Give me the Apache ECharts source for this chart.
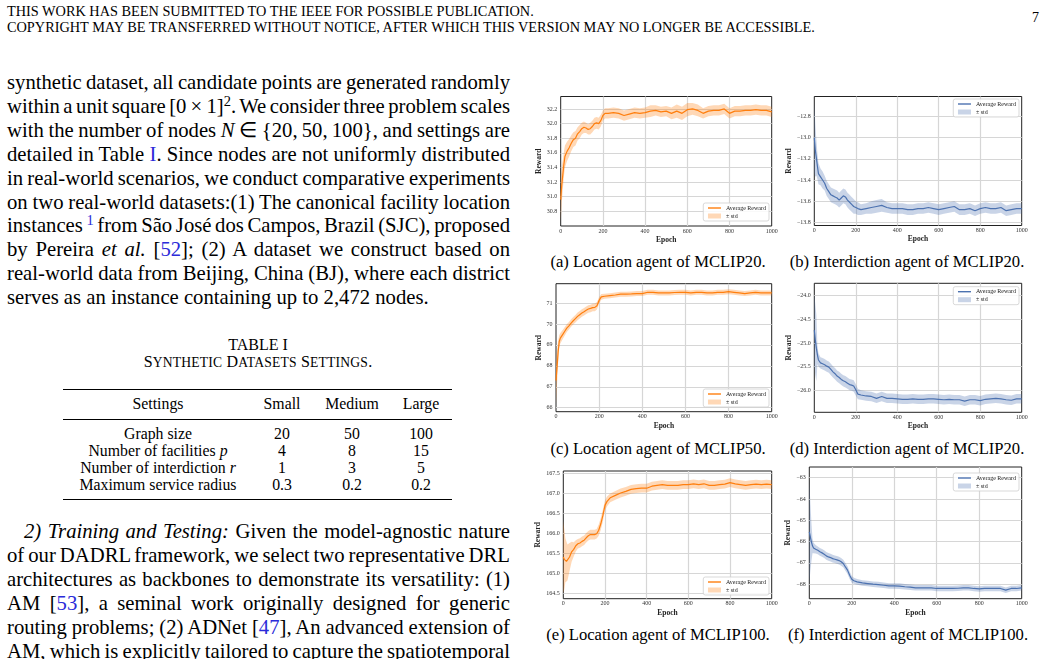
<!DOCTYPE html>
<html>
<head>
<meta charset="utf-8">
<script src="https://cdn.jsdelivr.net/npm/echarts@6/dist/echarts.min.js"></script>
<style>
  body { margin: 0; background: #fff; color: #000; font-family: "Liberation Serif", serif; }
  #page { position: relative; width: 1048px; height: 659px; overflow: hidden; }
  .hdr { position: absolute; left: 7px; top: 3px; font-size: 14.3px; line-height: 16px; white-space: nowrap; }
  .pno { position: absolute; right: 9px; top: 10px; font-size: 14px; line-height: 16px; }
  .col { position: absolute; left: 7px; width: 503px; font-size: 20.7px; line-height: 23.9px; }
  .col div { white-space: nowrap; }
  .lnk { color: #2b2bd9; }
  sup { font-size: 0.7em; line-height: 0; vertical-align: 0.45em; }
  .sc { font-size: 0.85em; }
  .cap { position: absolute; font-size: 16.6px; line-height: 20px; white-space: nowrap; transform: translateX(-50%); }
  .tc { position: absolute; font-size: 15.8px; line-height: 17.5px; white-space: nowrap; transform: translateX(-50%); }
  .rule { position: absolute; left: 63px; width: 389px; background: #000; }
  #chart { position: absolute; left: 0; top: 0; width: 1048px; height: 659px; }
</style>
</head>
<body>
<div id="page">
  <div class="hdr">THIS WORK HAS BEEN SUBMITTED TO THE IEEE FOR POSSIBLE PUBLICATION.<br>COPYRIGHT MAY BE TRANSFERRED WITHOUT NOTICE, AFTER WHICH THIS VERSION MAY NO LONGER BE ACCESSIBLE.</div>
  <div class="pno">7</div>

  <div class="col" style="top:71px">
    <div><span>synthetic dataset, all candidate points are generated randomly</span></div>
    <div><span>within a unit square [0&thinsp;×&thinsp;1]<sup>2</sup>. We consider three problem scales</span></div>
    <div><span>with the number of nodes <i>N</i> ∈ {20,&thinsp;50,&thinsp;100}, and settings are</span></div>
    <div><span>detailed in Table <span class="lnk">I</span>. Since nodes are not uniformly distributed</span></div>
    <div><span>in real-world scenarios, we conduct comparative experiments</span></div>
    <div><span>on two real-world datasets:(1) The canonical facility location</span></div>
    <div><span>instances <sup class="lnk">1</sup> from São José dos Campos, Brazil (SJC), proposed</span></div>
    <div><span>by Pereira <i>et al.</i> [<span class="lnk">52</span>]; (2) A dataset we construct based on</span></div>
    <div><span>real-world data from Beijing, China (BJ), where each district</span></div>
    <div class="last"><span>serves as an instance containing up to 2,472 nodes.</span></div>
  </div>

  <div class="tc" style="left:258px;top:336px;font-size:16px;line-height:18px">TABLE I</div>
  <div class="tc" style="left:258px;top:353px;font-size:16px;line-height:18px;letter-spacing:0.2px">S<span class="sc">YNTHETIC</span> D<span class="sc">ATASETS</span> S<span class="sc">ETTINGS</span>.</div>
  <div class="rule" style="top:389px;height:1.4px"></div>
  <div class="rule" style="top:419px;height:0.9px"></div>
  <div class="rule" style="top:499px;height:1.4px"></div>
  <div class="tc" style="left:158px;top:395px">Settings</div>
  <div class="tc" style="left:282px;top:395px">Small</div>
  <div class="tc" style="left:352px;top:395px">Medium</div>
  <div class="tc" style="left:421px;top:395px">Large</div>
  <div class="tc" style="left:158px;top:425px">Graph size</div>
  <div class="tc" style="left:282px;top:425px">20</div>
  <div class="tc" style="left:352px;top:425px">50</div>
  <div class="tc" style="left:421px;top:425px">100</div>
  <div class="tc" style="left:158px;top:442px">Number of facilities <i>p</i></div>
  <div class="tc" style="left:282px;top:442px">4</div>
  <div class="tc" style="left:352px;top:442px">8</div>
  <div class="tc" style="left:421px;top:442px">15</div>
  <div class="tc" style="left:158px;top:459px">Number of interdiction <i>r</i></div>
  <div class="tc" style="left:282px;top:459px">1</div>
  <div class="tc" style="left:352px;top:459px">3</div>
  <div class="tc" style="left:421px;top:459px">5</div>
  <div class="tc" style="left:158px;top:476px">Maximum service radius</div>
  <div class="tc" style="left:282px;top:476px">0.3</div>
  <div class="tc" style="left:352px;top:476px">0.2</div>
  <div class="tc" style="left:421px;top:476px">0.2</div>

  <div class="col" style="top:520px">
    <div data-indent="17" style="padding-left:17px"><span><i>2) Training and Testing:</i> Given the model-agnostic nature</span></div>
    <div><span>of our DADRL framework, we select two representative DRL</span></div>
    <div><span>architectures as backbones to demonstrate its versatility: (1)</span></div>
    <div><span>AM [<span class="lnk">53</span>], a seminal work originally designed for generic</span></div>
    <div><span>routing problems; (2) ADNet [<span class="lnk">47</span>], An advanced extension of</span></div>
    <div><span>AM, which is explicitly tailored to capture the spatiotemporal</span></div>
  </div>

  <div class="cap" style="left:658px;top:252px">(a) Location agent of MCLIP20.</div>
  <div class="cap" style="left:907px;top:252px">(b) Interdiction agent of MCLIP20.</div>
  <div class="cap" style="left:658px;top:439px">(c) Location agent of MCLIP50.</div>
  <div class="cap" style="left:907px;top:439px">(d) Interdiction agent of MCLIP20.</div>
  <div class="cap" style="left:658px;top:625px">(e) Location agent of MCLIP100.</div>
  <div class="cap" style="left:908px;top:625px">(f) Interdiction agent of MCLIP100.</div>

  <div id="chart"></div>
</div>

<script>
// justify each text line to the column width by adjusting word spacing
document.querySelectorAll('.col > div').forEach(function (d) {
  if (d.classList.contains('last')) return;
  var span = d.firstElementChild;
  var indent = +(d.getAttribute('data-indent') || 0);
  var w = span.getBoundingClientRect().width;
  var n = (span.textContent.match(/ /g) || []).length;
  if (n) d.style.wordSpacing = ((503 - indent - w) / n) + 'px';
});

// epochs shared by all six panels
var epochs = [0, 5, 10, 15, 20, 30, 40, 50, 60, 70, 80, 90, 100, 110, 120, 130, 140, 150, 160, 170, 180, 190, 200, 210,
  225, 250, 275, 300, 325, 350, 375, 400, 425, 450, 475, 500, 525, 550, 575, 600, 625, 650, 675, 700, 725, 750, 775, 800,
  825, 850, 875, 900, 925, 950, 975, 1000];

// (a) location agent, MCLIP20
var meanA = [30.96, 31.16, 31.30, 31.44, 31.55, 31.62, 31.67, 31.73, 31.78, 31.80, 31.86, 31.89, 31.93, 31.95, 31.94, 31.92,
  31.93, 31.96, 32.00, 32.01, 32.00, 32.04, 32.11, 32.14,
  32.14, 32.15, 32.14, 32.11, 32.13, 32.15, 32.14, 32.15, 32.17, 32.18, 32.16, 32.17, 32.14, 32.17, 32.14, 32.19,
  32.20, 32.18, 32.14, 32.17, 32.18, 32.18, 32.20, 32.14, 32.17, 32.17, 32.18, 32.18, 32.19, 32.18, 32.18, 32.16];
var stdA = [0.30, 0.25, 0.20, 0.17, 0.15, 0.13, 0.12, 0.11, 0.10, 0.10, 0.09, 0.09, 0.08, 0.08, 0.07, 0.07,
  0.08, 0.08, 0.08, 0.08, 0.08, 0.08, 0.07, 0.07,
  0.07, 0.07, 0.07, 0.07, 0.07, 0.07, 0.07, 0.07, 0.08, 0.07, 0.07, 0.07, 0.08, 0.09, 0.09, 0.09,
  0.08, 0.08, 0.07, 0.07, 0.07, 0.07, 0.07, 0.07, 0.07, 0.07, 0.07, 0.07, 0.07, 0.07, 0.07, 0.07];

// (b) interdiction agent, MCLIP20
var meanB = [-13.00, -13.12, -13.19, -13.27, -13.34, -13.37, -13.40, -13.43, -13.48, -13.51, -13.54, -13.55, -13.56, -13.57,
  -13.59, -13.57, -13.55, -13.56, -13.59, -13.61, -13.63, -13.65, -13.66, -13.67,
  -13.68, -13.67, -13.66, -13.65, -13.64, -13.66, -13.67, -13.67, -13.67, -13.68, -13.68, -13.67, -13.67, -13.66, -13.67, -13.68,
  -13.67, -13.66, -13.65, -13.68, -13.68, -13.67, -13.69, -13.67, -13.66, -13.67, -13.67, -13.66, -13.69, -13.68, -13.67, -13.67];
var stdB = [0.33, 0.25, 0.17, 0.12, 0.10, 0.08, 0.08, 0.07, 0.07, 0.07, 0.07, 0.07, 0.07, 0.07, 0.07, 0.07,
  0.07, 0.07, 0.07, 0.07, 0.07, 0.07, 0.06, 0.06,
  0.05, 0.05, 0.06, 0.06, 0.06, 0.05, 0.05, 0.05, 0.05, 0.05, 0.05, 0.05, 0.05, 0.05, 0.05, 0.05,
  0.05, 0.05, 0.05, 0.05, 0.05, 0.05, 0.05, 0.05, 0.05, 0.05, 0.05, 0.05, 0.05, 0.05, 0.05, 0.05];

// (c) location agent, MCLIP50
var meanC = [67.30, 67.96, 68.68, 69.16, 69.32, 69.48, 69.64, 69.80, 69.91, 70.04, 70.15, 70.25, 70.36, 70.44, 70.52, 70.58,
  70.65, 70.71, 70.74, 70.78, 70.79, 70.87, 71.13, 71.29,
  71.32, 71.35, 71.38, 71.42, 71.42, 71.43, 71.45, 71.45, 71.51, 71.51, 71.48, 71.48, 71.48, 71.50, 71.51, 71.51,
  71.48, 71.51, 71.51, 71.48, 71.48, 71.51, 71.51, 71.54, 71.51, 71.48, 71.45, 71.48, 71.51, 71.48, 71.48, 71.48];
var stdC = [1.10, 0.80, 0.50, 0.30, 0.25, 0.22, 0.20, 0.19, 0.18, 0.18, 0.18, 0.18, 0.18, 0.18, 0.18, 0.18,
  0.18, 0.18, 0.18, 0.18, 0.18, 0.18, 0.16, 0.14,
  0.12, 0.12, 0.12, 0.12, 0.12, 0.12, 0.12, 0.12, 0.12, 0.12, 0.12, 0.12, 0.12, 0.12, 0.12, 0.12,
  0.12, 0.12, 0.12, 0.12, 0.12, 0.12, 0.12, 0.12, 0.12, 0.12, 0.12, 0.12, 0.12, 0.12, 0.12, 0.12];

// (d) interdiction agent
var meanD = [-24.73, -24.94, -25.11, -25.25, -25.36, -25.42, -25.44, -25.46, -25.49, -25.51, -25.56, -25.61, -25.65, -25.70,
  -25.73, -25.77, -25.80, -25.82, -25.85, -25.88, -25.89, -25.91, -25.99, -26.08,
  -26.10, -26.12, -26.13, -26.17, -26.13, -26.17, -26.17, -26.18, -26.19, -26.19, -26.18, -26.19, -26.19, -26.18, -26.18, -26.19,
  -26.20, -26.19, -26.20, -26.20, -26.23, -26.20, -26.20, -26.22, -26.19, -26.18, -26.17, -26.18, -26.20, -26.21, -26.18, -26.18];
var stdD = [0.75, 0.75, 0.70, 0.20, 0.14, 0.12, 0.12, 0.12, 0.12, 0.12, 0.12, 0.12, 0.12, 0.12, 0.12, 0.12,
  0.12, 0.12, 0.12, 0.12, 0.12, 0.12, 0.12, 0.11,
  0.10, 0.10, 0.10, 0.10, 0.10, 0.10, 0.10, 0.10, 0.10, 0.10, 0.10, 0.10, 0.10, 0.10, 0.10, 0.10,
  0.10, 0.10, 0.10, 0.10, 0.10, 0.10, 0.10, 0.10, 0.10, 0.10, 0.10, 0.10, 0.10, 0.10, 0.10, 0.10];

// (e) location agent, MCLIP100
var meanE = [165.40, 165.34, 165.32, 165.29, 165.26, 165.40, 165.53, 165.59, 165.68, 165.73, 165.75, 165.79, 165.82, 165.88,
  165.93, 165.96, 165.96, 165.96, 165.98, 166.07, 166.23, 166.44, 166.69, 166.79,
  166.88, 166.94, 167.00, 167.04, 167.09, 167.11, 167.12, 167.12, 167.17, 167.19, 167.21, 167.19, 167.19, 167.19, 167.21, 167.21,
  167.23, 167.21, 167.23, 167.19, 167.19, 167.21, 167.22, 167.26, 167.23, 167.21, 167.19, 167.21, 167.22, 167.21, 167.22, 167.21];
var stdE = [0.90, 0.75, 0.55, 0.50, 0.45, 0.35, 0.25, 0.18, 0.14, 0.12, 0.12, 0.12, 0.12, 0.12, 0.12, 0.12,
  0.12, 0.12, 0.12, 0.14, 0.15, 0.15, 0.13, 0.12,
  0.11, 0.11, 0.11, 0.11, 0.11, 0.11, 0.11, 0.11, 0.11, 0.11, 0.11, 0.11, 0.11, 0.11, 0.11, 0.11,
  0.11, 0.11, 0.11, 0.11, 0.11, 0.11, 0.11, 0.11, 0.11, 0.11, 0.11, 0.11, 0.11, 0.11, 0.11, 0.11];

// (f) interdiction agent, MCLIP100
var meanF = [-65.55, -65.78, -66.02, -66.20, -66.30, -66.36, -66.41, -66.48, -66.53, -66.59, -66.67, -66.72, -66.75, -66.80,
  -66.83, -66.86, -66.89, -66.95, -67.03, -67.19, -67.34, -67.58, -67.77, -67.84,
  -67.89, -67.94, -67.97, -68.00, -68.02, -68.05, -68.08, -68.08, -68.09, -68.12, -68.14, -68.17, -68.17, -68.17, -68.17, -68.20,
  -68.20, -68.20, -68.20, -68.19, -68.17, -68.17, -68.20, -68.22, -68.20, -68.20, -68.20, -68.20, -68.28, -68.20, -68.20, -68.17];
var stdF = [2.40, 1.60, 0.90, 0.35, 0.25, 0.20, 0.18, 0.18, 0.18, 0.18, 0.18, 0.18, 0.18, 0.18, 0.18, 0.18,
  0.18, 0.18, 0.18, 0.18, 0.18, 0.18, 0.16, 0.14,
  0.13, 0.13, 0.13, 0.13, 0.13, 0.13, 0.13, 0.13, 0.13, 0.13, 0.13, 0.13, 0.13, 0.13, 0.13, 0.13,
  0.13, 0.13, 0.13, 0.13, 0.13, 0.13, 0.13, 0.13, 0.13, 0.13, 0.13, 0.13, 0.13, 0.13, 0.13, 0.13];

// y tick labels
var ticksA = [30.8, 31.0, 31.2, 31.4, 31.6, 31.8, 32.0, 32.2];
var ticksB = [-13.8, -13.6, -13.4, -13.2, -13.0, -12.8];
var ticksC = [66, 67, 68, 69, 70, 71];
var ticksD = [-26.0, -25.5, -25.0, -24.5, -24.0];
var ticksE = [164.5, 165.0, 165.5, 166.0, 166.5, 167.0, 167.5];
var ticksF = [-68, -67, -66, -65, -64, -63];

var ORANGE = '#ff7f0e', ORANGE_BAND = 'rgba(255,127,14,0.3)';
var BLUE = '#4c72b0', BLUE_BAND = 'rgba(76,114,176,0.3)';
var FONT = 'Liberation Serif';

var panels = [
  { mean: meanA, std: stdA, ticks: ticksA, dec: 1, min: 30.6, max: 32.37, line: ORANGE, band: ORANGE_BAND,
    grid: [560.7, 96.5, 211, 129.5], legend: [279, 203], gapY: 17 },
  { mean: meanB, std: stdB, ticks: ticksB, dec: 1, min: -13.83, max: -12.61, line: BLUE, band: BLUE_BAND,
    grid: [814.3, 96.5, 207.4, 129], legend: [29, 99], gapY: 20.5 },
  { mean: meanC, std: stdC, ticks: ticksC, dec: 0, min: 65.81, max: 71.92, line: ORANGE, band: ORANGE_BAND,
    grid: [556, 283.7, 215.7, 128], legend: [279, 389], gapY: 12.5 },
  { mean: meanD, std: stdD, ticks: ticksD, dec: 1, min: -26.465, max: -23.74, line: BLUE, band: BLUE_BAND,
    grid: [814.3, 283.3, 207.4, 129], legend: [29, 286.7], gapY: 20.5 },
  { mean: meanE, std: stdE, ticks: ticksE, dec: 1, min: 164.357, max: 167.55, line: ORANGE, band: ORANGE_BAND,
    grid: [563.3, 471, 208.4, 127.7], legend: [279, 577], gapY: 19.5 },
  { mean: meanF, std: stdF, ticks: ticksF, dec: 0, min: -68.68, max: -62.5, line: BLUE, band: BLUE_BAND,
    grid: [809.3, 467, 212.4, 131.7], legend: [29, 473], gapY: 15.5 }
];

function fmt(v, d) {
  return v.toFixed(d).replace('-', '\u2212');
}

var grids = [], xAxes = [], yAxes = [], series = [], legends = [];
panels.forEach(function (p, i) {
  grids.push({
    left: p.grid[0], top: p.grid[1], width: p.grid[2], height: p.grid[3],
    show: true, borderColor: '#222', borderWidth: 1, backgroundColor: 'transparent'
  });
  xAxes.push({
    gridIndex: i, type: 'value', min: 0, max: 1000, interval: 200,
    name: 'Epoch', nameLocation: 'middle', nameGap: 10,
    nameTextStyle: { fontFamily: FONT, fontWeight: 'bold', fontSize: 7.5, color: '#222' },
    axisLine: { show: false }, axisTick: { show: false },
    axisLabel: { fontFamily: FONT, fontSize: 6, color: '#333', margin: 2, formatter: function (v) { return String(v); } },
    splitLine: { show: true, showMinLine: false, showMaxLine: false, lineStyle: { color: '#d6d6d6', width: 1.2 } }
  });
  yAxes.push({
    gridIndex: i, type: 'value', min: p.min, max: p.max,
    name: 'Reward', nameLocation: 'middle', nameGap: p.gapY, nameRotate: 90,
    nameTextStyle: { fontFamily: FONT, fontWeight: 'bold', fontSize: 7.5, color: '#222' },
    axisLine: { show: false },
    axisTick: { show: false, customValues: p.ticks },
    axisLabel: {
      customValues: p.ticks, fontFamily: FONT, fontSize: 6, color: '#333', margin: 3.5,
      formatter: (function (d) { return function (v) { return fmt(v, d); }; })(p.dec)
    },
    splitLine: { show: true, lineStyle: { color: '#d6d6d6', width: 1.2 } }
  });
  series.push({
    name: 'std' + i, type: 'custom', xAxisIndex: i, yAxisIndex: i, z: 2, silent: true,
    itemStyle: { color: p.band },
    data: epochs.map(function (e, j) { return [e, p.mean[j] - p.std[j], p.mean[j] + p.std[j]]; }),
    encode: { x: 0, y: [1, 2] },
    renderItem: function (params, api) {
      if (params.dataIndex !== 0) return;
      var up = [], lo = [];
      for (var j = 0; j < epochs.length; j++) {
        up.push(api.coord([epochs[j], p.mean[j] + p.std[j]]));
        lo.push(api.coord([epochs[j], p.mean[j] - p.std[j]]));
      }
      return { type: 'polygon', shape: { points: up.concat(lo.reverse()) }, style: { fill: p.band } };
    }
  });
  series.push({
    name: 'avg' + i, type: 'line', xAxisIndex: i, yAxisIndex: i, z: 3, silent: true,
    symbol: 'none', lineStyle: { color: p.line, width: 1.2 }, itemStyle: { color: p.line },
    data: epochs.map(function (e, j) { return [e, p.mean[j]]; })
  });
  legends.push({
    orient: 'vertical', right: p.legend[0], top: p.legend[1],
    data: [
      { name: 'avg' + i, itemStyle: { opacity: 0 }, lineStyle: { width: 1.4 } },
      { name: 'std' + i, icon: 'rect' }
    ],
    formatter: function (n) { return n.indexOf('avg') === 0 ? 'Average Reward' : '\u00b1 std'; },
    itemWidth: 13, itemHeight: 5, itemGap: 2, padding: [2, 3, 2, 4],
    backgroundColor: 'rgba(255,255,255,0.85)', borderColor: '#cfcfcf', borderWidth: 0.8, borderRadius: 2,
    selectedMode: false,
    textStyle: { fontFamily: FONT, fontSize: 6, color: '#222' }
  });
});

var chart = echarts.init(document.getElementById('chart'));
chart.setOption({
  animation: false,
  grid: grids,
  xAxis: xAxes,
  yAxis: yAxes,
  legend: legends,
  series: series
});
</script>
</body>
</html>
